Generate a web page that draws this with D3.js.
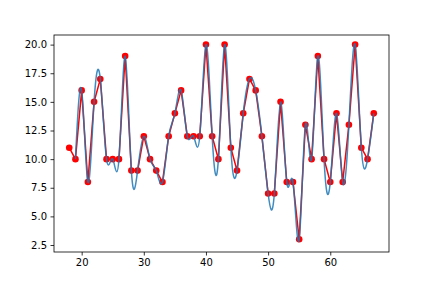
<!DOCTYPE html>
<html>
<head>
<meta charset="utf-8">
<script src="https://cdn.jsdelivr.net/npm/d3@7"></script>
<style>
  body { margin: 0; background: #fff; }
  svg { display: block; }
  .tick text { font-family: "DejaVu Sans", sans-serif; font-size: 10px; fill: #000; }
</style>
</head>
<body>
<svg id="board" width="432" height="288"></svg>
<script>
// data points
let xs = d3.range(18, 68)
let ys = [11, 10, 16, 8, 15, 17, 10, 10, 10, 19,
          9, 9, 12, 10, 9, 8, 12, 14, 16, 12,
          12, 12, 20, 12, 10, 20, 11, 9, 14, 17,
          16, 12, 7, 7, 15, 8, 8, 3, 13, 10,
          19, 10, 8, 14, 8, 13, 20, 11, 10, 14]
let xTicks = [20, 30, 40, 50, 60]
let yTicks = [2.5, 5, 7.5, 10, 12.5, 15, 17.5, 20]

let points = xs.map((x, i) => [x, ys[i]])
// the smooth curve only starts at the second point
let splinePoints = points.slice(1)

let plotLeft = 54, plotRight = 389, plotTop = 35, plotBottom = 252

let board = d3.select('#board')

let xScale = d3.scaleLinear().domain([15.55, 69.45]).range([plotLeft, plotRight])
let yScale = d3.scaleLinear().domain([1.89, 20.84]).range([plotBottom, plotTop])

// red polyline + markers
board.append('path')
    .datum(points)
    .attr('fill', 'none')
    .attr('stroke', '#ff0000')
    .attr('stroke-width', 1.5)
    .attr('stroke-linejoin', 'round')
    .attr('d', d3.line().x(d => xScale(d[0])).y(d => yScale(d[1])))

board.selectAll('circle')
    .data(points)
    .enter()
    .append('circle')
    .attr('cx', d => xScale(d[0]))
    .attr('cy', d => yScale(d[1]))
    .attr('r', 3.3)
    .attr('fill', '#ff0000')

// smooth spline on top
board.append('path')
    .datum(splinePoints)
    .attr('fill', 'none')
    .attr('stroke', '#1f77b4')
    .attr('stroke-opacity', 0.85)
    .attr('stroke-width', 1.5)
    .attr('d', d3.line().x(d => xScale(d[0])).y(d => yScale(d[1])).curve(d3.curveNatural))

// axes
let xAxis = d3.axisBottom(xScale).tickValues(xTicks).tickSizeInner(3.5).tickSizeOuter(0).tickPadding(3.5)
let yAxis = d3.axisLeft(yScale).tickValues(yTicks).tickFormat(d3.format('.1f')).tickSizeInner(3.5).tickSizeOuter(0).tickPadding(3.5)

board.append('g').attr('transform', `translate(0,${plotBottom})`).call(xAxis)
board.append('g').attr('transform', `translate(${plotLeft},0)`).call(yAxis)
board.selectAll('.domain').remove()
board.selectAll('.tick line').attr('stroke', '#000').attr('stroke-width', 0.8)

board.append('rect')
    .attr('x', plotLeft).attr('y', plotTop)
    .attr('width', plotRight - plotLeft).attr('height', plotBottom - plotTop)
    .attr('fill', 'none')
    .attr('stroke', '#000')
    .attr('stroke-width', 0.8)
</script>
</body>
</html>
